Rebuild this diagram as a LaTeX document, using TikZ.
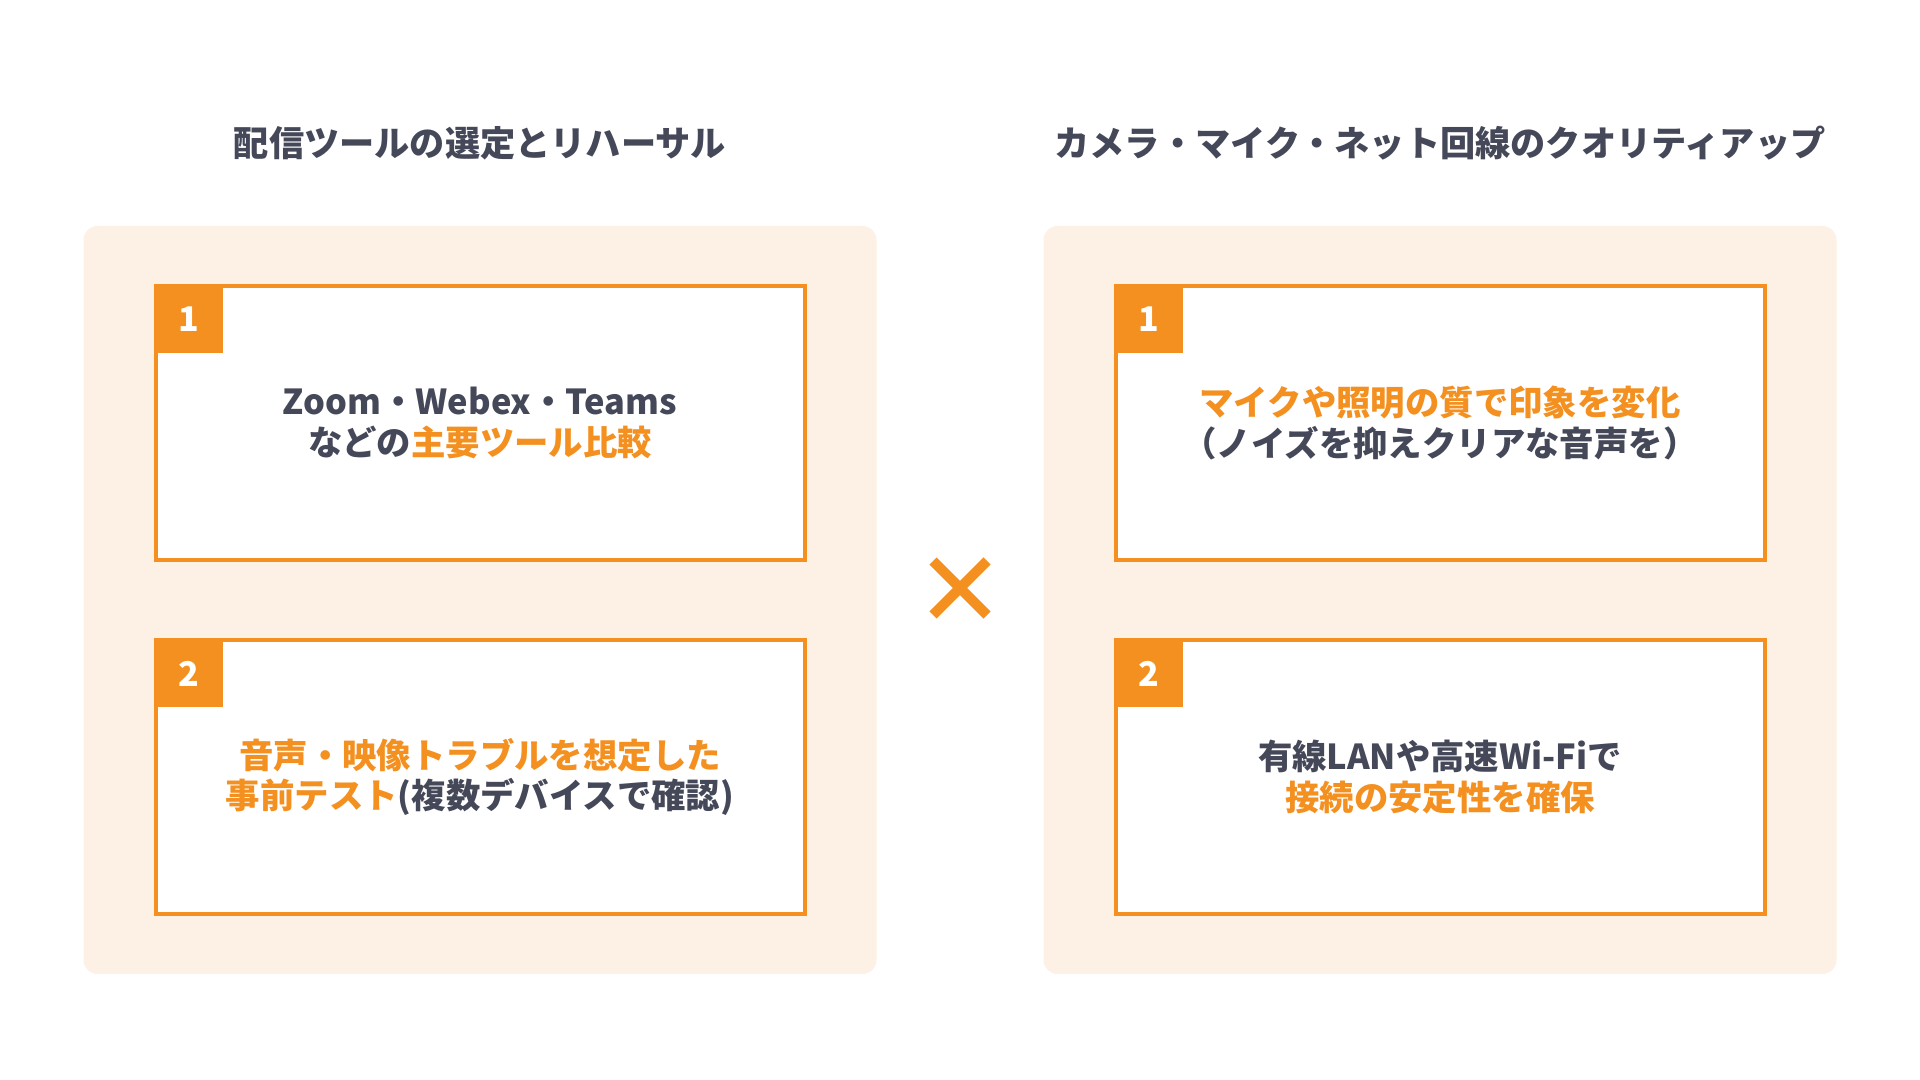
\documentclass[tikz,border=0pt]{standalone}
\usepackage{fontspec}
\setmainfont{Noto Sans CJK JP}
\definecolor{accent}{HTML}{F39020}
\definecolor{peach}{HTML}{FDF0E4}
\definecolor{ink}{HTML}{454858}
\newcommand{\hl}[1]{\textcolor{accent}{#1}}
\begin{document}
\begin{tikzpicture}[x=1pt,y=1pt,line width=2pt,
    panel/.style={fill=peach,rounded corners=7pt,minimum width=396.5pt,minimum height=374pt},
    heading/.style={text=ink,font=\bfseries\fontsize{17.6}{21}\selectfont},
    card/.style={draw=accent,fill=white,outer sep=0pt,minimum width=324.5pt,minimum height=137pt,
      align=center,text=ink,font=\bfseries\fontsize{17.2}{20.4}\selectfont},
    num/.style={fill=accent,anchor=north west,inner sep=0pt,outer sep=0pt,minimum size=33.5pt,
      text=white,font=\bfseries\fontsize{17}{20}\selectfont}]
      \pgfmathsetmacro{\w}{480}
      \pgfmathsetmacro{\h}{177}

      \useasboundingbox (0,0) rectangle (960,540);

      \node[panel] (P0) at (\w * 0.5,240) {};
      \node[panel] (P1) at (\w * 1.5,240) {};

      \node[heading] (T0) at (\w * 0.5,468.5) {配信ツールの選定とリハーサル};
      \node[heading] (T1) at (\w * 1.5,468.5) {カメラ・マイク・ネット回線のクオリティアップ};

      \node[card] (A0) at (\w * 0.5,151.5 + \h) {Zoom・Webex・Teams\\などの\hl{主要ツール比較}};
      \node[card] (B0) at (\w * 0.5,151.5) {\hl{音声・映像トラブルを想定した}\\\hl{事前テスト}(複数デバイスで確認)};
      \node[card] (A1) at (\w * 1.5,151.5 + \h) {\hl{マイクや照明の質で印象を変化}\\（ノイズを抑えクリアな音声を）};
      \node[card] (B1) at (\w * 1.5,151.5) {有線LANや高速Wi-Fiで\\\hl{接続の安定性を確保}};

      \node[num] (A0n) at (A0.north west) {1};
      \node[num] (B0n) at (B0.north west) {2};
      \node[num] (A1n) at (A1.north west) {1};
      \node[num] (B1n) at (B1.north west) {2};

      \coordinate (X) at (\w,246);
      \draw[accent,line width=5pt] ([shift={(-13.5,-13.5)}]X) -- ([shift={(13.5,13.5)}]X);
      \draw[accent,line width=5pt] ([shift={(-13.5,13.5)}]X) -- ([shift={(13.5,-13.5)}]X);
    \end{tikzpicture}
\end{document}
